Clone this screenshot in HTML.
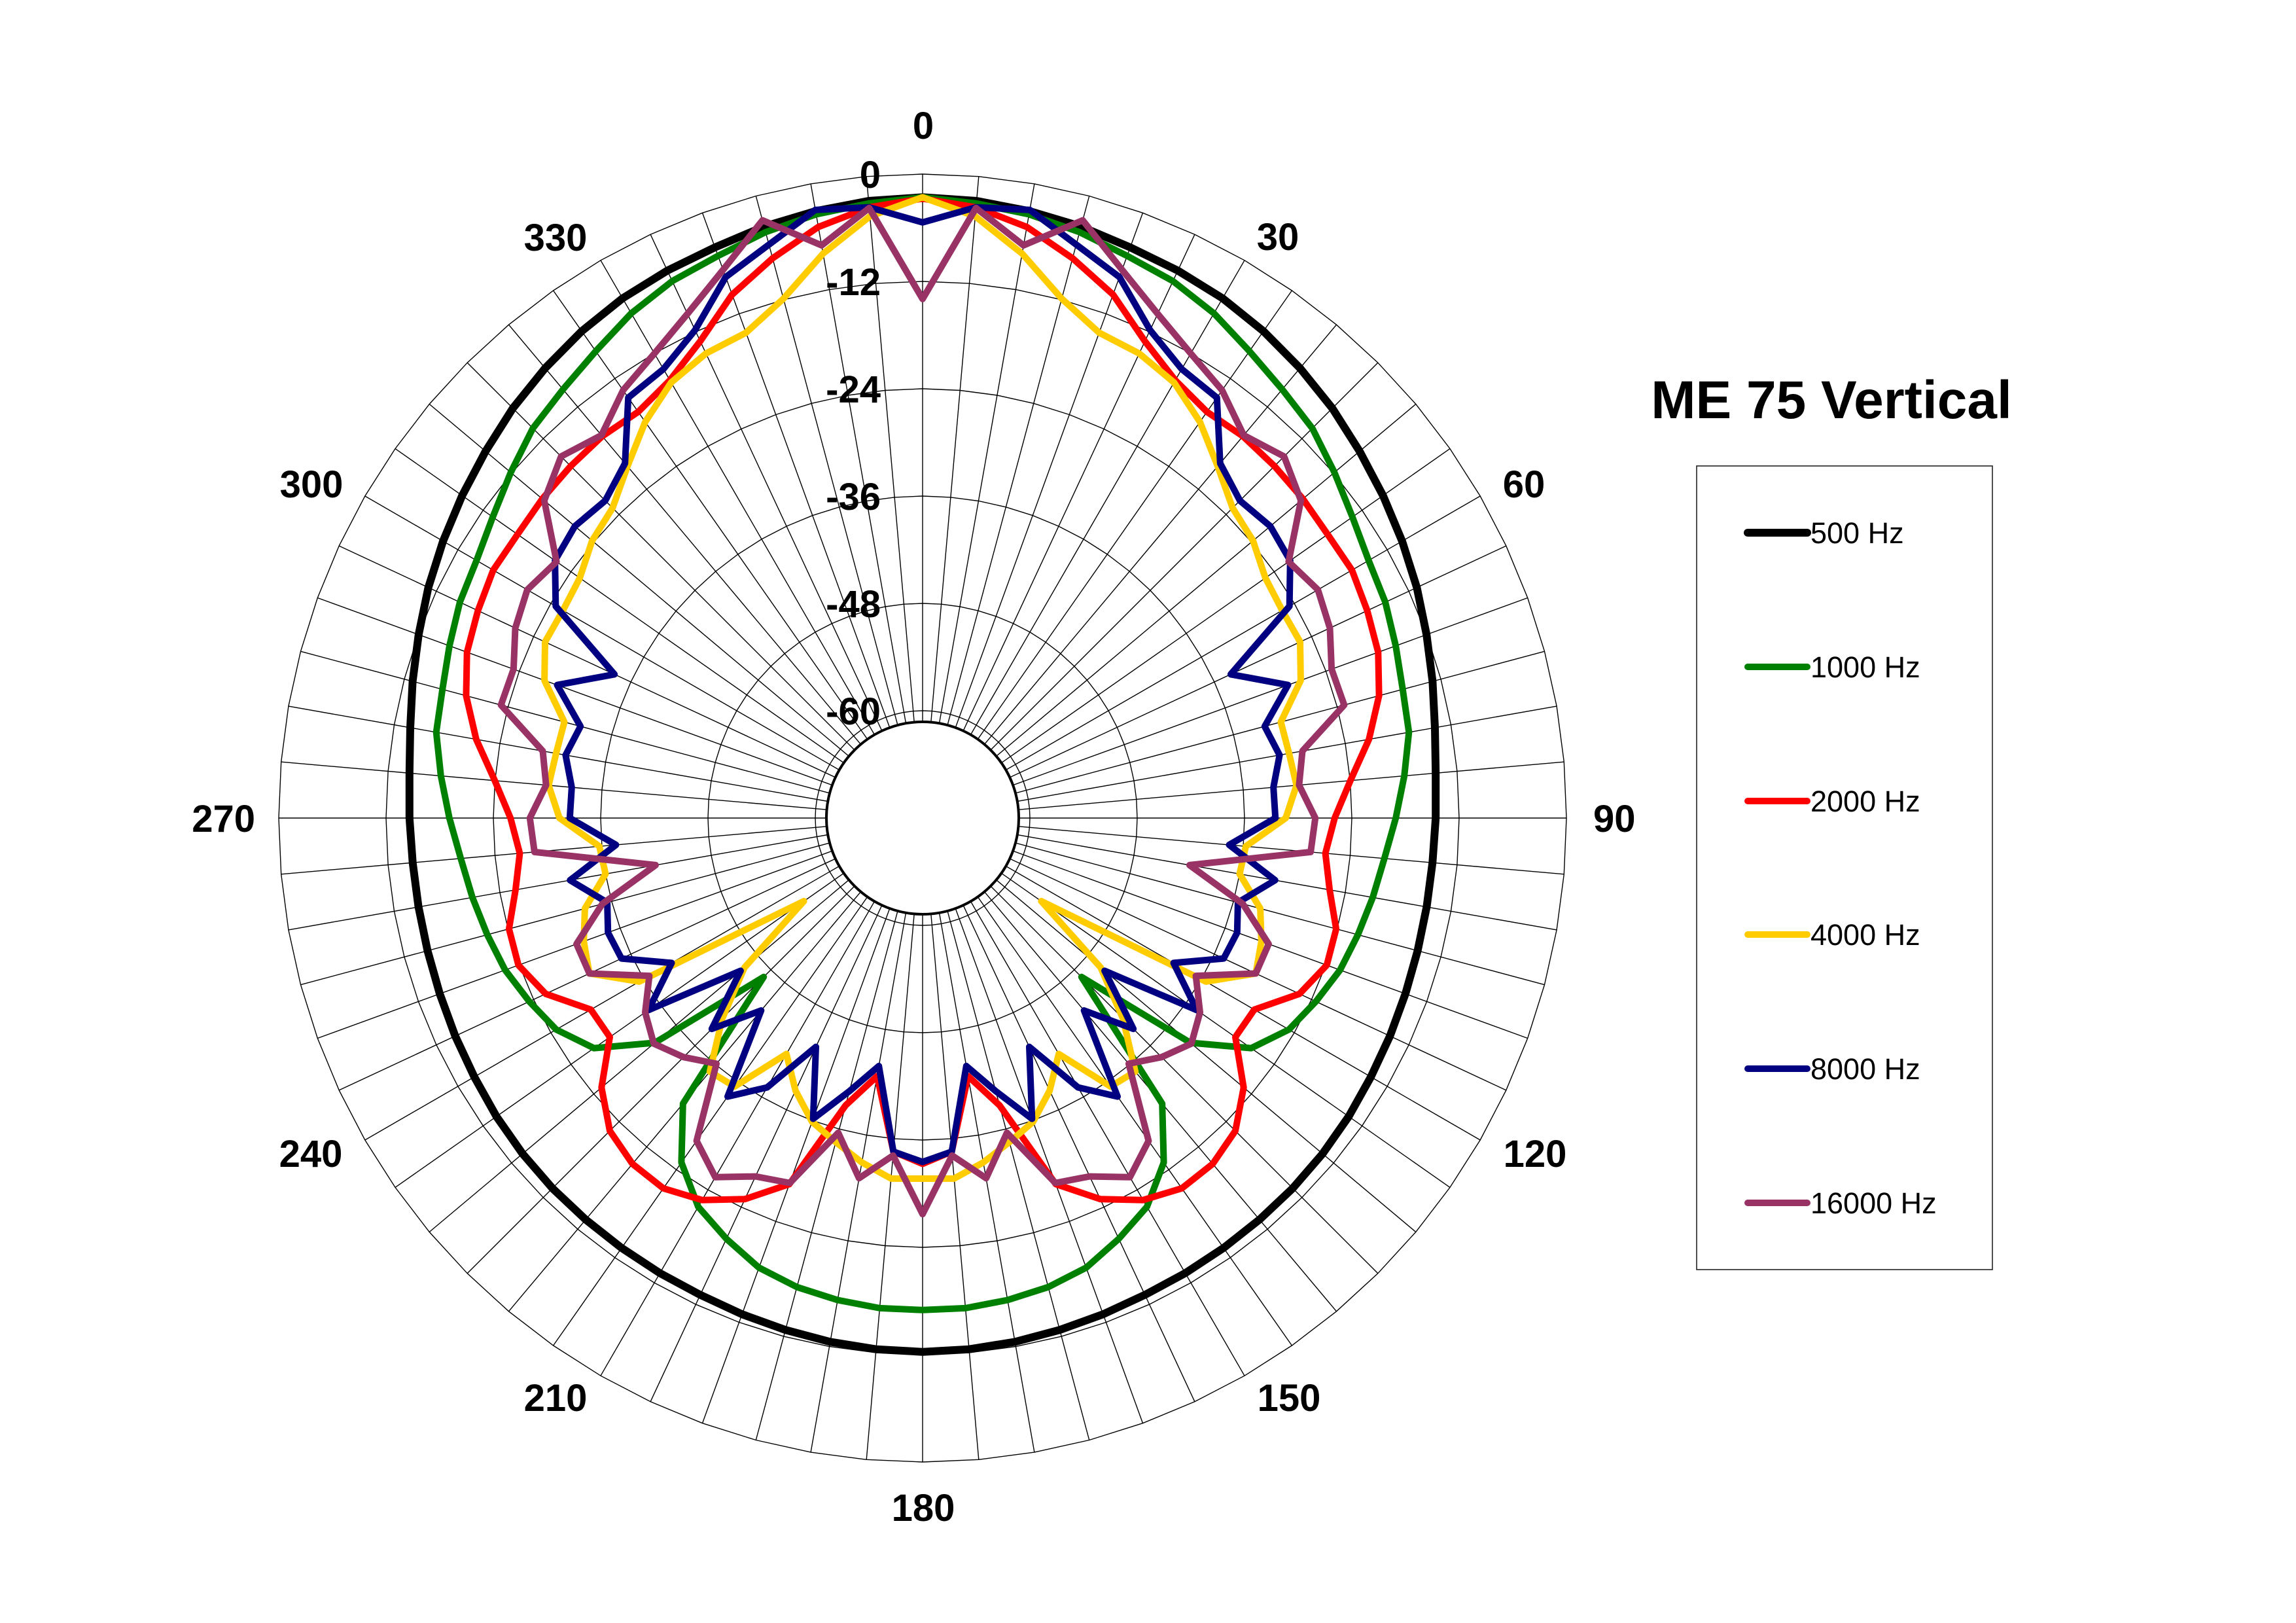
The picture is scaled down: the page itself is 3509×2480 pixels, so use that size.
<!DOCTYPE html>
<html>
<head>
<meta charset="utf-8">
<style>
html,body{margin:0;padding:0;background:#fff;}
svg{display:block;}
text{font-family:"Liberation Sans",Arial,sans-serif;fill:#000;}
</style>
</head>
<body>
<svg id="s" width="3509" height="2480" viewBox="0 0 3509 2480">
<rect x="0" y="0" width="3509" height="2480" fill="#fff"/>
<g id="grid"></g>
<g id="series"></g>

<!-- angle labels -->
<g font-weight="bold" font-size="58" text-anchor="middle">
<text x="1411" y="212">0</text>
<text x="1953" y="382">30</text>
<text x="2329" y="760">60</text>
<text x="2435" y="1271" text-anchor="start">90</text>
<text x="2346" y="1783">120</text>
<text x="1970" y="2156">150</text>
<text x="1411" y="2324">180</text>
<text x="849" y="2156">210</text>
<text x="475" y="1783">240</text>
<text x="390" y="1271" text-anchor="end">270</text>
<text x="476" y="760">300</text>
<text x="849" y="383">330</text>
</g>

<!-- ring labels -->
<g font-weight="bold" font-size="58" text-anchor="end">
<text x="1346" y="287">0</text>
<text x="1346" y="451">-12</text>
<text x="1346" y="615">-24</text>
<text x="1346" y="779">-36</text>
<text x="1346" y="943">-48</text>
<text x="1346" y="1107">-60</text>
</g>

<!-- title -->
<text x="2799" y="639" font-size="82" font-weight="bold" text-anchor="middle">ME 75 Vertical</text>

<!-- legend -->
<rect x="2593" y="712" width="452" height="1228" fill="none" stroke="#222" stroke-width="1.6"/>
<g stroke-linecap="round">
<line x1="2671" y1="814" x2="2762" y2="814" stroke="#000" stroke-width="12"/>
<line x1="2671" y1="1019" x2="2762" y2="1019" stroke="#008000" stroke-width="10"/>
<line x1="2671" y1="1224" x2="2762" y2="1224" stroke="#ff0000" stroke-width="10"/>
<line x1="2671" y1="1428" x2="2762" y2="1428" stroke="#ffcc00" stroke-width="10"/>
<line x1="2671" y1="1633" x2="2762" y2="1633" stroke="#000080" stroke-width="10"/>
<line x1="2671" y1="1838" x2="2762" y2="1838" stroke="#993366" stroke-width="10"/>
</g>
<g font-size="45">
<text x="2767" y="830">500 Hz</text>
<text x="2767" y="1035">1000 Hz</text>
<text x="2767" y="1240">2000 Hz</text>
<text x="2767" y="1444">4000 Hz</text>
<text x="2767" y="1649">8000 Hz</text>
<text x="2767" y="1854">16000 Hz</text>
</g>
</svg>

<script>
(function(){
var cx=1410, cy=1250, R=984;
function P(deg,r){var a=deg*Math.PI/180;return [(cx+r*Math.sin(a)).toFixed(1),(cy-r*Math.cos(a)).toFixed(1)];}
var s='';
var d='';
for(var i=0;i<72;i++){var p=P(i*5,R);d+='M'+cx+' '+cy+'L'+p[0]+' '+p[1];}
s+='<path d="'+d+'" stroke="#000" stroke-width="1.4" fill="none"/>';
for(var k=0;k<6;k++){
  var r=R*(1-k/6), pd='';
  for(var j=0;j<72;j++){var q=P(j*5,r);pd+=(j?'L':'M')+q[0]+' '+q[1];}
  pd+='Z';
  s+='<path d="'+pd+'" stroke="#000" stroke-width="1.4" fill="none"/>';
}
s+='<circle cx="'+cx+'" cy="'+cy+'" r="147" fill="#fff" stroke="#000" stroke-width="4"/>';
document.getElementById('grid').innerHTML=s;

var series=[
 ['#000000',12,[0.964,0.962,0.957,0.951,0.943,0.938,0.932,0.923,0.912,0.90,0.886,0.873,0.860,0.847,0.833,0.82,0.808,0.80,0.797,0.795,0.795,0.796,0.798,0.801,0.804,0.808,0.811,0.813,0.814,0.815,0.816,0.817,0.82,0.823,0.826,0.828,0.829]],
 ['#008000',10,[0.964,0.958,0.952,0.942,0.929,0.920,0.905,0.885,0.869,0.856,0.835,0.815,0.80,0.793,0.782,0.772,0.767,0.751,0.735,0.72,0.71,0.70,0.69,0.674,0.657,0.623,0.543,0.349,0.579,0.653,0.697,0.721,0.743,0.754,0.76,0.764,0.764]],
 ['#ff0000',10,[0.962,0.952,0.932,0.900,0.865,0.817,0.785,0.77,0.774,0.773,0.771,0.768,0.770,0.762,0.753,0.734,0.704,0.667,0.64,0.628,0.642,0.665,0.668,0.646,0.595,0.593,0.651,0.687,0.701,0.702,0.685,0.653,0.605,0.462,0.407,0.52,0.537]],
 ['#ffcc00',10,[0.964,0.938,0.890,0.835,0.802,0.796,0.781,0.751,0.713,0.681,0.670,0.650,0.645,0.647,0.625,0.576,0.578,0.583,0.564,0.504,0.50,0.543,0.56,0.571,0.508,0.225,0.361,0.44,0.514,0.509,0.423,0.467,0.502,0.521,0.543,0.562,0.56]],
 ['#000080',10,[0.925,0.952,0.959,0.922,0.894,0.836,0.805,0.797,0.719,0.697,0.705,0.697,0.658,0.528,0.604,0.550,0.563,0.547,0.548,0.478,0.556,0.507,0.520,0.516,0.450,0.520,0.369,0.463,0.390,0.528,0.483,0.392,0.497,0.439,0.391,0.52,0.534]],
 ['#993366',10,[0.806,0.951,0.903,0.961,0.906,0.864,0.833,0.811,0.776,0.794,0.767,0.694,0.709,0.698,0.676,0.678,0.599,0.587,0.61,0.605,0.421,0.515,0.572,0.571,0.490,0.526,0.545,0.525,0.498,0.612,0.644,0.614,0.603,0.506,0.568,0.526,0.615]]
];
var t='';
for(var n=0;n<series.length;n++){
  var sr=series[n], v=sr[2], pd='';
  for(var i2=0;i2<72;i2++){
    var a=i2*5;
    var idx=a<=180?a/5:(360-a)/5;
    var p2=P(a,v[idx]*R);
    pd+=(i2?'L':'M')+p2[0]+' '+p2[1];
  }
  pd+='Z';
  t+='<path d="'+pd+'" stroke="'+sr[0]+'" stroke-width="'+sr[1]+'" fill="none" stroke-linejoin="round"/>';
}
document.getElementById('series').innerHTML=t;
})();
</script>
</body>
</html>
